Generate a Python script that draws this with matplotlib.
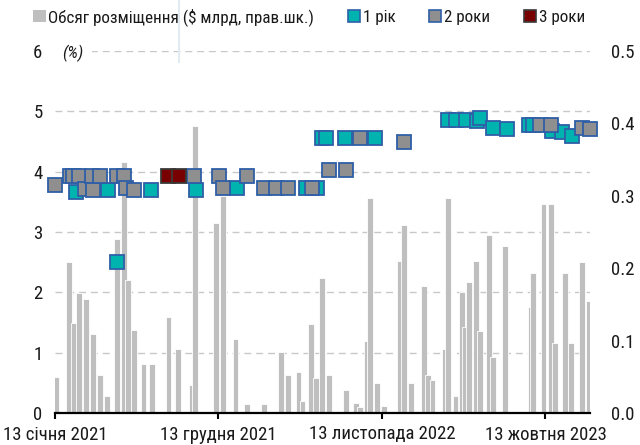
import matplotlib
matplotlib.use('Agg')
import matplotlib.pyplot as plt
import matplotlib.font_manager as fm
from matplotlib.lines import Line2D
from matplotlib.patches import Patch
import pandas as pd

# ---- font choice: prefer a narrow sans (reference uses an Arial Narrow-like face) ----
_entries = fm.fontManager.ttflist
_names = {f.name for f in _entries}
_narrow = [n for n in _names if ('Narrow' in n or 'Condensed' in n)]
FS = 13.5
LFS = 12.3
if _narrow:
    pref = sorted(_narrow, key=lambda n: (0 if 'Liberation' in n else 1 if 'Roboto' in n else 2, n))
    plt.rcParams['font.family'] = [pref[0], 'DejaVu Sans']
else:
    cond = [f.name for f in _entries if str(f.stretch) in ('condensed', 'semi-condensed', '500', '600')]
    if cond:
        fam = 'Liberation Sans' if 'Liberation Sans' in cond else sorted(cond)[0]
        plt.rcParams['font.family'] = [fam, 'DejaVu Sans']
        plt.rcParams['font.stretch'] = 'condensed'
    else:
        plt.rcParams['font.family'] = ['Liberation Sans', 'DejaVu Sans']
        FS = 12
        LFS = 11

# ---- data ----
bar_dates = ['2021-01-16', '2021-02-11', '2021-02-21', '2021-03-03', '2021-03-17', '2021-03-31',
             '2021-04-15', '2021-04-29', '2021-05-19', '2021-06-03', '2021-06-12', '2021-06-24',
             '2021-07-13', '2021-07-30', '2021-09-02', '2021-09-22', '2021-10-20', '2021-10-27',
             '2021-12-08', '2021-12-22', '2022-01-17', '2022-02-10', '2022-03-16', '2022-04-20',
             '2022-05-05', '2022-05-26', '2022-06-03', '2022-06-21', '2022-07-01', '2022-07-13',
             '2022-07-28', '2022-08-31', '2022-09-21', '2022-09-29', '2022-10-12', '2022-10-19',
             '2022-11-02', '2022-11-17', '2022-12-20', '2022-12-28', '2023-01-11', '2023-02-07',
             '2023-02-15', '2023-02-24', '2023-03-22', '2023-03-28', '2023-04-12', '2023-04-25',
             '2023-05-01', '2023-05-10', '2023-05-24', '2023-06-01', '2023-06-20', '2023-06-28',
             '2023-07-23', '2023-09-13', '2023-09-18', '2023-10-09', '2023-10-24', '2023-11-01',
             '2023-11-22', '2023-12-04', '2023-12-26', '2024-01-09']
bar_values = [0.050, 0.209, 0.125, 0.166, 0.157, 0.109,
              0.052, 0.024, 0.241, 0.346, 0.184, 0.115,
              0.068, 0.068, 0.132, 0.089, 0.038, 0.396,
              0.263, 0.300, 0.102, 0.013, 0.013, 0.084,
              0.052, 0.057, 0.017, 0.123, 0.049, 0.186,
              0.052, 0.032, 0.014, 0.008, 0.100, 0.297,
              0.041, 0.010, 0.210, 0.260, 0.042, 0.176,
              0.052, 0.045, 0.088, 0.297, 0.024, 0.167,
              0.119, 0.181, 0.210, 0.113, 0.246, 0.078,
              0.230, 0.146, 0.193, 0.288, 0.288, 0.097,
              0.193, 0.097, 0.209, 0.155]

y1_dates = ['2021-02-25', '2021-05-01', '2021-05-19', '2021-07-28', '2021-10-28', '2022-01-21',
            '2022-06-10', '2022-07-03', '2022-07-13', '2022-07-21', '2022-08-29', '2022-10-29',
            '2023-03-28', '2023-04-12', '2023-05-03', '2023-05-25', '2023-06-01', '2023-06-27',
            '2023-07-27', '2023-09-10', '2023-09-18', '2023-10-27', '2023-11-15', '2023-12-06']
y1_values = [3.67, 3.70, 2.51, 3.69, 3.69, 3.73,
             3.73, 3.73, 4.55, 4.55, 4.55, 4.55,
             4.86, 4.86, 4.86, 4.84, 4.89, 4.73,
             4.71, 4.77, 4.77, 4.67, 4.65, 4.59]

y2_dates = ['2021-01-13', '2021-02-12', '2021-02-19', '2021-03-04', '2021-03-16', '2021-03-29',
            '2021-04-01', '2021-04-15', '2021-05-19', '2021-06-03', '2021-06-07', '2021-06-24',
            '2021-10-24', '2021-12-15', '2021-12-22', '2022-02-10', '2022-03-17', '2022-04-09',
            '2022-05-04', '2022-06-23', '2022-07-27', '2022-08-31', '2022-09-29', '2022-12-28',
            '2023-10-02', '2023-10-25', '2023-12-26', '2024-01-11']
y2_values = [3.78, 3.93, 3.93, 3.93, 3.72, 3.93,
             3.70, 3.93, 3.93, 3.93, 3.73, 3.69,
             3.93, 3.93, 3.73, 3.93, 3.73, 3.73,
             3.73, 3.73, 4.03, 4.03, 4.55, 4.49,
             4.77, 4.77, 4.72, 4.71]

y3_dates = ['2021-09-01', '2021-09-24']
y3_values = [3.93, 3.93]

legend_labels = ['Обсяг розміщення ($ млрд, прав.шк.)', '1 рік', '2 роки', '3 роки']
xtick_dates = ['2021-01-13', '2021-12-13', '2022-11-13', '2023-10-13']
xtick_labels = ['13 січня 2021', '13 грудня 2021', '13 листопада 2022', '13 жовтня 2023']
x_range = ['2021-01-13', '2024-01-12']
left_ticks = [0, 1, 2, 3, 4, 5, 6]
right_ticks = [0.0, 0.1, 0.2, 0.3, 0.4, 0.5]

# ---- style ----
c_bar = '#BFBFBF'
c_teal = '#00B3AE'
c_gray = '#8F8F8F'
c_red = '#780000'
c_blue = '#2E5FA8'
c_redge = '#3A3A3A'
c_text = '#1A1A1A'

fig = plt.figure(figsize=(6.4, 4.45), dpi=100)
ax = fig.add_axes([55 / 640, 1 - 413 / 445, 535 / 640, 362 / 445])
ax_bar = ax.twinx()
ax.set_zorder(ax_bar.get_zorder() + 1)
ax.patch.set_visible(False)

# bars (right axis)
ax_bar.bar(pd.to_datetime(bar_dates), bar_values, width=12, color=c_bar,
           edgecolor='white', linewidth=0.6, zorder=2)
ax_bar.set_ylim(right_ticks[0], right_ticks[-1])
ax_bar.set_yticks(right_ticks)
ax_bar.set_yticklabels([f'{t:.1f}' for t in right_ticks])
for t in left_ticks[1:]:
    ax_bar.axhline(t / left_ticks[-1] * right_ticks[-1], color='#C8C8C8',
                   lw=1.0, ls=(0, (5, 3.5)), zorder=1)

# markers (left axis)
ms = 10.2
ax.plot(pd.to_datetime(y1_dates), y1_values, ls='none', marker='s', ms=ms,
        mfc=c_teal, mec=c_blue, mew=1.3, zorder=3, clip_on=False)
ax.plot(pd.to_datetime(y2_dates), y2_values, ls='none', marker='s', ms=ms,
        mfc=c_gray, mec=c_blue, mew=1.3, zorder=4, clip_on=False)
ax.plot(pd.to_datetime(y3_dates), y3_values, ls='none', marker='s', ms=ms,
        mfc=c_red, mec=c_redge, mew=1.3, zorder=5, clip_on=False)

ax.set_ylim(left_ticks[0], left_ticks[-1])
ax.set_yticks(left_ticks)
ax.set_yticklabels([str(t) for t in left_ticks])
ax.set_xlim(pd.to_datetime(x_range[0]), pd.to_datetime(x_range[1]))
ax.set_xticks(pd.to_datetime(xtick_dates))
ax.set_xticklabels(xtick_labels)

for a in (ax, ax_bar):
    for s in ('top', 'left', 'right'):
        a.spines[s].set_visible(False)
ax_bar.spines['bottom'].set_visible(False)
ax.spines['bottom'].set_linewidth(1.6)
ax.spines['bottom'].set_color('black')
ax.spines['bottom'].set_zorder(10)

ax.tick_params(axis='y', length=0, pad=9, labelsize=FS, labelcolor=c_text)
ax_bar.tick_params(axis='y', length=0, pad=15, labelsize=FS, labelcolor=c_text)
ax.tick_params(axis='x', length=4, width=1.5, color='black', pad=5,
               labelsize=FS, labelcolor=c_text)

ax.annotate('(%)', xy=(0, left_ticks[-1]), xycoords=('axes fraction', 'data'),
            xytext=(5, -2), textcoords='offset points', ha='left', va='center',
            fontsize=FS - 1, style='italic', color=c_text,
            bbox=dict(fc='white', ec='none', pad=6))

handles = [Patch(fc=c_bar, ec='none'),
           Line2D([], [], ls='none', marker='s', ms=8, mfc=c_teal, mec=c_blue, mew=1.2),
           Line2D([], [], ls='none', marker='s', ms=8, mfc=c_gray, mec=c_blue, mew=1.2),
           Line2D([], [], ls='none', marker='s', ms=8, mfc=c_red, mec=c_redge, mew=1.2)]
leg = fig.legend(handles, legend_labels, loc='center left',
                 bbox_to_anchor=(33 / 640, 1 - 17 / 445), ncol=4, frameon=False,
                 fontsize=LFS, handlelength=0.75, handleheight=0.75, handletextpad=0.15,
                 columnspacing=1.95, borderpad=0, borderaxespad=0)
for t in leg.get_texts():
    t.set_color(c_text)

fig.add_artist(Line2D([179 / 640, 179 / 640], [1, 1 - 62 / 445],
                      transform=fig.transFigure, color='#E2ECF0', lw=1.5))

fig.savefig('out.png', dpi=100)
